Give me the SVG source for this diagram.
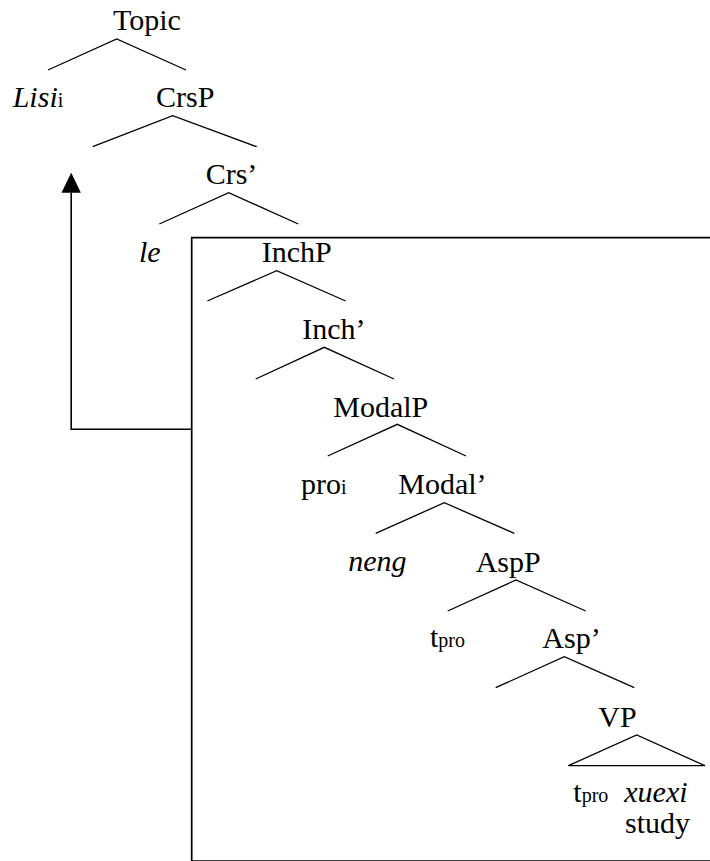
<svg xmlns="http://www.w3.org/2000/svg" width="710" height="861" viewBox="0 0 710 861">
<style>
text{font-family:'Liberation Serif','Times New Roman','DejaVu Serif',serif;font-size:30px;fill:#000}
.it{font-style:italic}
.sub{font-size:20px;font-style:normal}
.br{fill:none;stroke:#000;stroke-width:1.3}
.box{fill:none;stroke:#000;stroke-width:1.7}
</style>
<defs>
<marker id="ah" markerUnits="userSpaceOnUse" markerWidth="20" markerHeight="20" viewBox="0 0 20 20" refX="0" refY="10" orient="auto">
<path d="M0,0.3 L20,10 L0,19.7 z" fill="#000"/>
</marker>
</defs>
<g id="connectors">
<polyline class="br" points="48,70 116.7,39 186,70"/>
<polyline class="br" points="92.7,146.7 172.7,115.7 256.7,146.7"/>
<polyline class="br" points="159.3,224 228.7,192.7 298.3,224"/>
<polyline class="br" points="207.3,301 276.7,270.7 345.7,301"/>
<polyline class="br" points="255.7,379 324.3,347.3 394,379"/>
<polyline class="br" points="327.7,456 397.3,424.3 466,456"/>
<polyline class="br" points="375.7,533.3 444.3,502.7 514.3,533.3"/>
<polyline class="br" points="447.7,611 516,580 585.7,611"/>
<polyline class="br" points="495.7,687.7 564.3,656.7 634.3,687.7"/>
<polygon class="br" points="568.3,765.7 636.7,735 705,765.7"/>
<path id="movement" d="M191.5,429.3 H71.2 V192.7" fill="none" stroke="#000" stroke-width="1.6" marker-end="url(#ah)"/>
</g>
<g id="box"><path class="box" d="M710,237.7 H191.7 V861.2 H710"/></g>
<g id="n-topic"><text x="113" y="30">Topic</text></g>
<g id="n-lisi"><text x="12.7" y="107" class="it">Lisi<tspan class="sub">i</tspan></text></g>
<g id="n-crsp"><text x="156" y="107">CrsP</text></g>
<g id="n-crsbar"><text x="205.7" y="184">Crs’</text></g>
<g id="n-le"><text x="139" y="262" class="it">le</text></g>
<g id="n-inchp"><text x="261.7" y="262">InchP</text></g>
<g id="n-inchbar"><text x="302.3" y="339">Inch’</text></g>
<g id="n-modalp"><text x="333.3" y="416.7">ModalP</text></g>
<g id="n-pro"><text x="301" y="494">pro<tspan class="sub">i</tspan></text></g>
<g id="n-modalbar"><text x="398.3" y="494">Modal’</text></g>
<g id="n-neng"><text x="348.3" y="571" class="it">neng</text></g>
<g id="n-aspp"><text x="475.7" y="571.7">AspP</text></g>
<g id="n-tpro1"><text x="430" y="647">t<tspan class="sub">pro</tspan></text></g>
<g id="n-aspbar"><text x="542.3" y="648.3">Asp’</text></g>
<g id="n-vp"><text x="598.3" y="726.7">VP</text></g>
<g id="n-vpcontent"><text x="573.3" y="801.7">t<tspan class="sub">pro</tspan></text><text x="624.3" y="801.7" class="it">xuexi</text><text x="625" y="833">study</text></g>
</svg>
